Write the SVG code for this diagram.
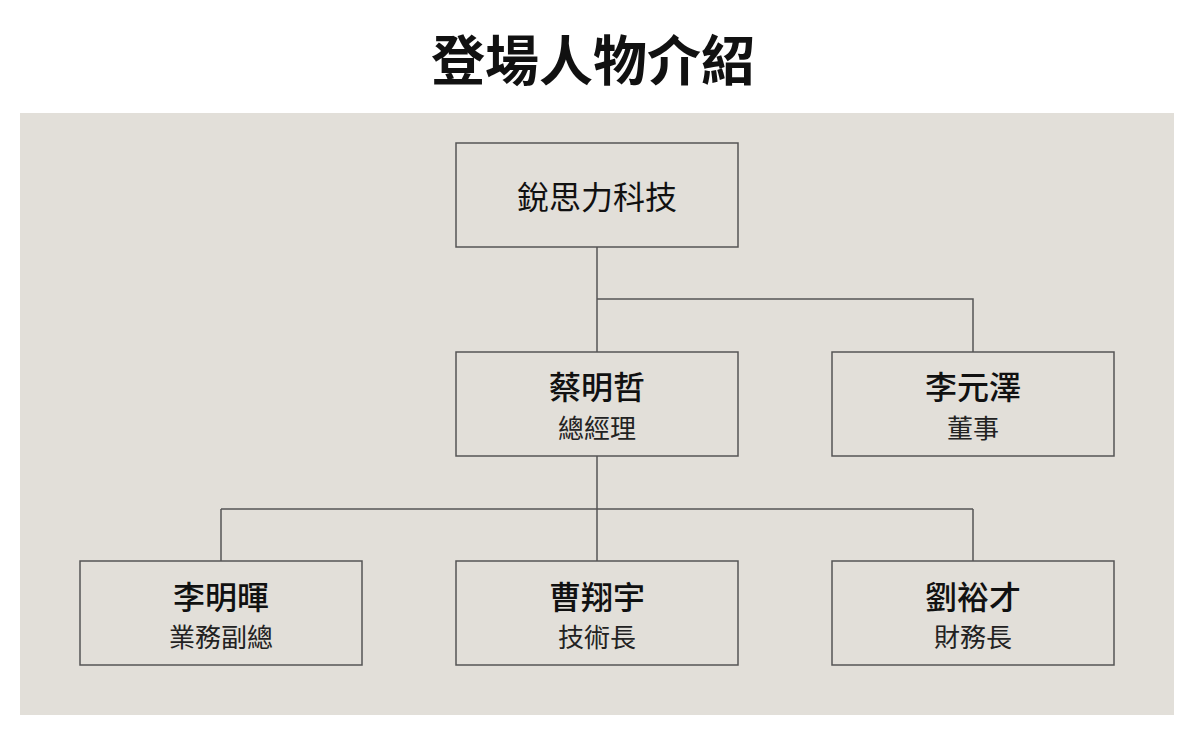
<svg xmlns="http://www.w3.org/2000/svg" width="1200" height="734" viewBox="0 0 1200 734">
  <style>
    text { font-family: "Noto Sans CJK TC", "Noto Sans CJK JP", sans-serif; fill: #111; text-anchor: middle; dominant-baseline: central; }
    .title { font-size: 54px; font-weight: 700; }
    .org { font-size: 32px; font-weight: 400; }
    .name { font-size: 32px; font-weight: 500; }
    .role { font-size: 26px; font-weight: 400; fill: #222; }
    .box { fill: #e2dfd9; stroke: #555; stroke-width: 1.5; }
    .conn { fill: none; stroke: #555; stroke-width: 1.5; }
  </style>
  <rect x="0" y="0" width="1200" height="734" fill="#ffffff"/>
  <text class="title" x="593" y="57">登場人物介紹</text>
  <rect x="20" y="113" width="1154" height="602" fill="#e2dfd9"/>
  <g id="connectors">
    <path class="conn" d="M597 247 V299 M597 299 H973 V352 M597 299 V352"/>
    <path class="conn" d="M597 456 V509 M221 509 H973 M221 509 V561 M597 509 V561 M973 509 V561"/>
  </g>
  <g id="company">
    <rect class="box" x="456" y="143" width="282" height="104"/>
    <text class="org" x="597" y="195">銳思力科技</text>
  </g>
  <g id="cai">
    <rect class="box" x="456" y="352" width="282" height="104"/>
    <text class="name" x="597" y="385">蔡明哲</text>
    <text class="role" x="597" y="426">總經理</text>
  </g>
  <g id="li-yuanze">
    <rect class="box" x="832" y="352" width="282" height="104"/>
    <text class="name" x="973" y="385">李元澤</text>
    <text class="role" x="973" y="426">董事</text>
  </g>
  <g id="li-minghui">
    <rect class="box" x="80" y="561" width="282" height="104"/>
    <text class="name" x="221" y="595">李明暉</text>
    <text class="role" x="221" y="635">業務副總</text>
  </g>
  <g id="cao">
    <rect class="box" x="456" y="561" width="282" height="104"/>
    <text class="name" x="597" y="595">曹翔宇</text>
    <text class="role" x="597" y="635">技術長</text>
  </g>
  <g id="liu">
    <rect class="box" x="832" y="561" width="282" height="104"/>
    <text class="name" x="973" y="595">劉裕才</text>
    <text class="role" x="973" y="635">財務長</text>
  </g>
</svg>
